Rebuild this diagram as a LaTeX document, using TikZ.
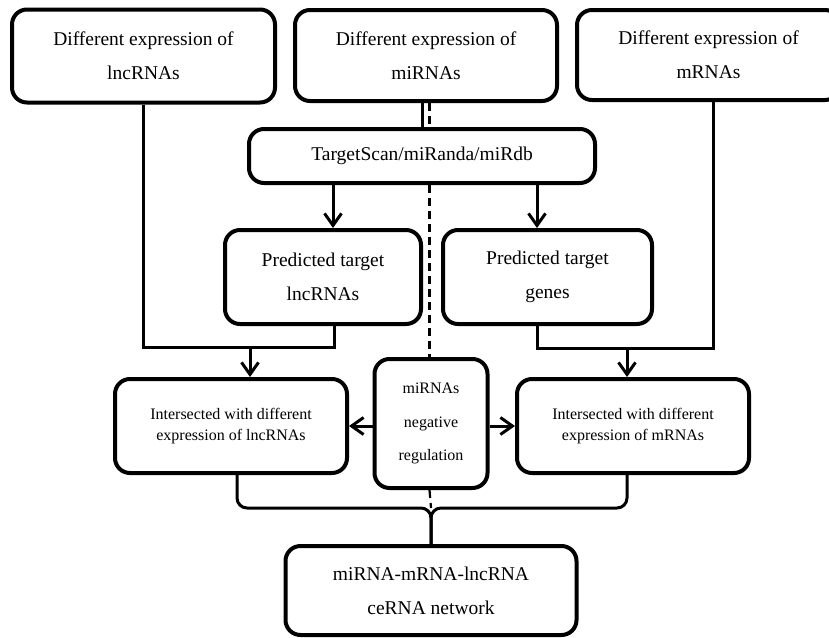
\documentclass[tikz,border=0pt]{standalone}
\usepackage{fontspec}
\setmainfont{Liberation Serif}
\usepackage{tikz}
\usetikzlibrary{arrows.meta,calc,positioning}
\tikzset{
arc/.style={-{Straight Barb[length=12pt,width=17pt,line width=3pt]},line width=3pt},
box/.style={draw,line width=4pt,rounded corners=15pt,align=center,font=\fontsize{19.5}{34}\selectfont},
smallbox/.style={box,font=\fontsize{16}{21.5}\selectfont},
link/.style={line width=3pt},
mirline/.style={line width=2.2pt,dash pattern=on 8pt off 5pt}
}

\begin{document}
\begin{tikzpicture}[x=1pt,y=-1pt]
			\useasboundingbox (0,0) rectangle (829,637);
			
			%expression boxes
			\node[box,minimum width=263pt,minimum height=93pt] (lncde) at (143.5,56) {Different expression of\\lncRNAs};
			\node[box,minimum width=262pt,minimum height=91pt] (mide) at (426,55.5) {Different expression of\\miRNAs};
			\node[box,minimum width=263pt,minimum height=90pt] (mrde) at (708.5,55) {Different expression of\\mRNAs};
			
			%prediction
			\node[box,minimum width=346pt,minimum height=54pt] (tools) at (422,156) {TargetScan/miRanda/miRdb};
			\node[box,minimum width=196pt,minimum height=94pt] (predl) at (323,277) {Predicted target\\lncRNAs};
			\node[box,minimum width=209pt,minimum height=94pt] (predg) at (547.5,277) {Predicted target\\genes};
			
			%intersection
			\node[smallbox,minimum width=232pt,minimum height=94pt] (intl) at (231,426) {Intersected with different\\expression of lncRNAs};
			\node[smallbox,font=\fontsize{16}{33.5}\selectfont,minimum width=113pt,minimum height=129pt] (neg) at (431,423.5) {miRNAs\\negative\\regulation};
			\node[smallbox,minimum width=232pt,minimum height=94pt] (intr) at (633,426) {Intersected with different\\expression of mRNAs};
			
			\node[box,minimum width=291pt,minimum height=89pt] (net) at (431,590.5) {miRNA-mRNA-lncRNA\\ceRNA network};
			
			\coordinate (dx) at (429.5,0);
			\coordinate (jl) at (250,347);
			\coordinate (jr) at (627,348);
			\coordinate (jb) at (431,508);
			
			%miRNA branch
			\draw[link] ([xshift=-4pt]mide.south) -- ([xshift=-4pt]mide.south |- tools.north);
			\draw[mirline] (mide.south -| dx) -- (tools.north -| dx);
			\draw[mirline] (tools.south -| dx) -- (neg.north -| dx);
			\draw[mirline] (neg.south -| dx) -- (jb);
			\draw[arc] ([xshift=10pt]predl.north |- tools.south) -- ([xshift=10pt]predl.north);
			\draw[arc] ([xshift=-10.5pt]predg.north |- tools.south) -- ([xshift=-10.5pt]predg.north);
			
			%joins to intersection
			\draw[link] (lncde.south) |- (jl) -| ([xshift=11pt]predl.south);
			\draw[arc] (jl) -- (jl |- intl.north);
			\draw[link] ([xshift=-10.5pt]predg.south) |- (jr) -| ([xshift=5pt]mrde.south);
			\draw[arc] (jr) -- (jr |- intr.north);
			
			\draw[arc] (neg.west |- intl.east) -- (intl.east);
			\draw[arc] (neg.east |- intr.west) -- (intr.west);
			
			%network
			\draw[link,rounded corners=10pt] ([xshift=6pt]intl.south) |- (jb) -- (net.north);
			\draw[link,rounded corners=10pt] ([xshift=-6pt]intr.south) |- (jb) -- (net.north);
			
\end{tikzpicture}
\end{document}
